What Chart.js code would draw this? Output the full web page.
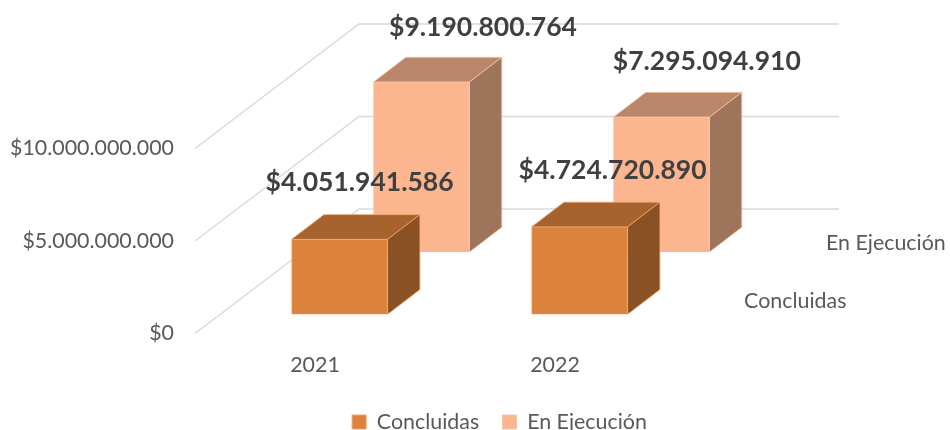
<!DOCTYPE html>
<html>
<head>
<meta charset="utf-8">
<style>html,body{margin:0;padding:0;background:#fff}canvas{display:block}</style>
<script src="https://cdn.jsdelivr.net/npm/chart.js@4"></script>
</head>
<body>
<canvas id="c" width="950" height="430"></canvas>
<script>
const categories = ['2021', '2022'];
const seriesNames = ['Concluidas', 'En Ejecución'];
const concluidas = [4051941586, 4724720890];
const enEjecucion = [9190800764, 7295094910];
const yTicks = [0, 5000000000, 10000000000];

const FONT = 'Lato';
const TEXT = '#595959';
const LABEL = '#404040';
const TICK_SIZE = 21.4;
const faces = [
  {front: '#DB823C', top: '#A6632D', side: '#8A5224', edge: '#F0A36C'},
  {front: '#FBB58F', top: '#BA876B', side: '#9E745B', edge: '#FBC3A4'}
];
const depthShift = [{dx: 24.6, dy: -19.2}, {dx: 106.5, dy: -81.5}];
const wall = {dx: 164, dy: -124.5};
const box = {dx: 32.3, dy: -24.7};
const labelNudge = [[{x: 20, y: -32}, {x: 33, y: -32}], [{x: 61.5, y: -29.5}, {x: 45.3, y: -31}]];
const depthLabelNudge = [-12.7, -9];

const money = v => '$' + String(v).replace(/\B(?=(\d{3})+$)/g, '.');

function poly(ctx, pts, fill, stroke) {
  ctx.beginPath();
  pts.forEach((p, i) => i ? ctx.lineTo(p[0], p[1]) : ctx.moveTo(p[0], p[1]));
  ctx.closePath();
  ctx.fillStyle = fill;
  ctx.fill();
  ctx.strokeStyle = stroke;
  ctx.lineWidth = 0.8;
  ctx.stroke();
}

const bar3d = {
  id: 'bar3d',
  afterLayout(chart) {
    const l = chart.legend;
    l.left = 207;
    l.right = 792;
    l.top = 388;
    l.bottom = l.top + l.height;
  },
  beforeDatasetsDraw(chart) {
    const {ctx, chartArea: a, scales: {y}} = chart;
    ctx.save();
    ctx.strokeStyle = '#D9D9D9';
    ctx.lineWidth = 1.4;
    yTicks.forEach(v => {
      const p = y.getPixelForValue(v);
      ctx.beginPath();
      ctx.moveTo(a.left, p);
      ctx.lineTo(a.left + wall.dx, p + wall.dy);
      ctx.lineTo(a.right + wall.dx, p + wall.dy);
      ctx.stroke();
    });
    ctx.restore();
  },
  beforeDatasetDraw(chart, args) {
    const {ctx} = chart;
    const s = depthShift[args.index], f = faces[args.index];
    args.meta.data.forEach(el => {
      const {x, y, base, width} = el.getProps(['x', 'y', 'base', 'width'], true);
      const L = x - width / 2 + s.dx, R = x + width / 2 + s.dx, T = y + s.dy, B = base + s.dy;
      poly(ctx, [[L, T], [R, T], [R + box.dx, T + box.dy], [L + box.dx, T + box.dy]], f.top, f.edge);
      poly(ctx, [[R, T], [R + box.dx, T + box.dy], [R + box.dx, B + box.dy], [R, B]], f.side, f.edge);
    });
    ctx.save();
    ctx.translate(s.dx, s.dy);
  },
  afterDatasetDraw(chart) {
    chart.ctx.restore();
  },
  afterDatasetsDraw(chart) {
    const {ctx, chartArea: a, scales: {y}} = chart;
    ctx.save();
    ctx.textBaseline = 'middle';
    ctx.textAlign = 'left';
    ctx.fillStyle = TEXT;
    ctx.font = TICK_SIZE + 'px ' + FONT;
    seriesNames.forEach((name, i) => {
      const s = depthShift[i];
      ctx.fillText(name, a.right + s.dx + 44.5, y.getPixelForValue(0) + s.dy + depthLabelNudge[i]);
    });
    ctx.textAlign = 'center';
    ctx.fillStyle = LABEL;
    ctx.font = 'bold 26.5px ' + FONT;
    chart.data.datasets.forEach((ds, i) => {
      const s = depthShift[i];
      chart.getDatasetMeta(i).data.forEach((el, j) => {
        const n = labelNudge[i][j];
        ctx.fillText(money(ds.data[j]), el.x + s.dx + n.x, el.y + s.dy + box.dy + n.y);
      });
    });
    ctx.restore();
  }
};

new Chart(document.getElementById('c'), {
  type: 'bar',
  plugins: [bar3d],
  data: {
    labels: categories,
    datasets: [
      {label: seriesNames[0], data: concluidas, backgroundColor: faces[0].front, borderColor: faces[0].edge, borderWidth: 1, grouped: false, barThickness: 96, clip: false},
      {label: seriesNames[1], data: enEjecucion, backgroundColor: faces[1].front, borderColor: faces[1].edge, borderWidth: 1, grouped: false, barThickness: 96, clip: false}
    ]
  },
  options: {
    responsive: false,
    animation: false,
    layout: {padding: {top: 148.5, right: 275, left: 0, bottom: 0}},
    plugins: {
      tooltip: {enabled: false},
      legend: {
        position: 'bottom',
        labels: {boxWidth: 14, boxHeight: 14, padding: 23.3, color: TEXT, font: {family: FONT, size: TICK_SIZE}}
      }
    },
    scales: {
      x: {
        grid: {display: false, drawTicks: false},
        border: {display: false},
        ticks: {color: TEXT, font: {family: FONT, size: TICK_SIZE}, padding: 18.5, maxRotation: 0},
        afterFit(s) { s.height = 96.5 - (s.chart.legend && s.chart.legend.height || 0); }
      },
      y: {
        min: 0,
        max: 10000000000,
        grid: {display: false, drawTicks: false},
        border: {display: false},
        afterBuildTicks(s) { s.ticks = yTicks.map(value => ({value})); },
        ticks: {color: TEXT, font: {family: FONT, size: TICK_SIZE}, padding: 21, callback: v => money(v)},
        afterFit(s) { s.width = 195; }
      }
    }
  }
});
</script>
</body>
</html>
